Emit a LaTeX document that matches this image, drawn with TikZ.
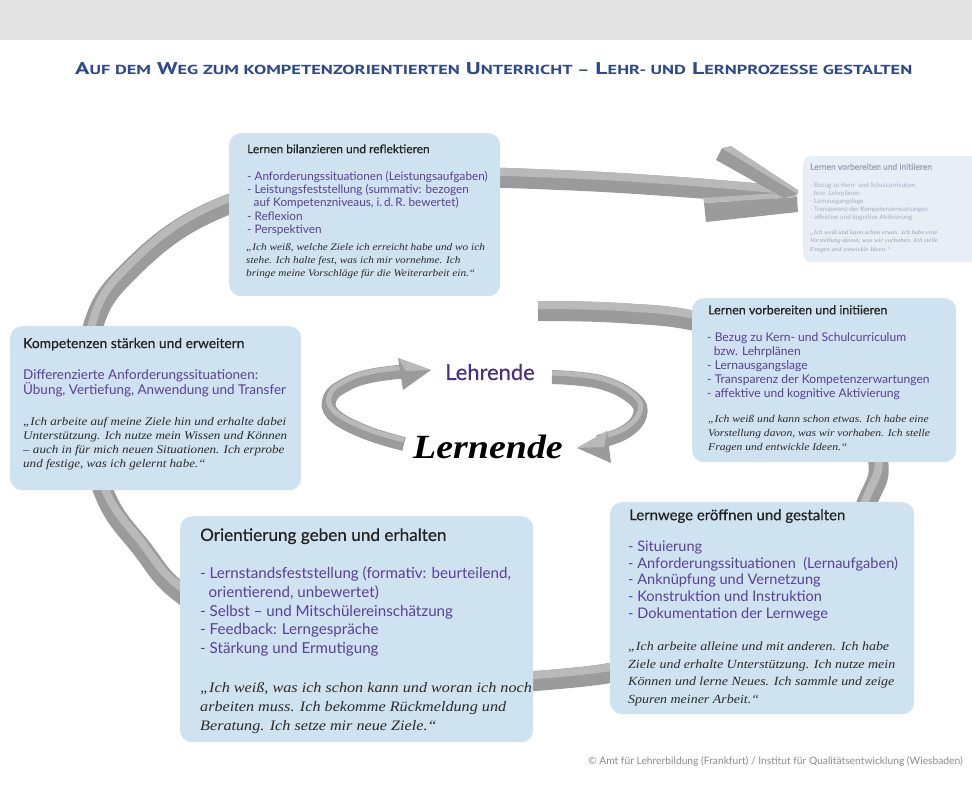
\documentclass[tikz,border=0pt]{standalone}
\usepackage{fontspec}
\setmainfont{Liberation Serif}
\setsansfont{Lato}
\newfontfamily\headfont{PT Sans}
\newfontfamily\kopffont{Lato}[FakeBold=0.5]
\newfontfamily\zitatfont{Liberation Serif}[FakeStretch=1.12]
\usepackage{graphicx}
\usetikzlibrary{positioning}
\definecolor{kopfgrau}{HTML}{E4E4E4}
\definecolor{titelblau}{HTML}{2D4A8A}
\definecolor{boxblau}{HTML}{CEE2EF}
\definecolor{blassblau}{HTML}{E7EEF5}
\definecolor{lila}{HTML}{5B3F98}
\definecolor{lehrlila}{HTML}{4A2D85}
\definecolor{schrift}{HTML}{222222}
\definecolor{zitatgrau}{HTML}{2B2B2B}
\definecolor{blasstext}{HTML}{ABABC6}
\definecolor{bandhell}{HTML}{B9B9B9}
\definecolor{banddunkel}{HTML}{9B9B9B}
\definecolor{fussgrau}{HTML}{8A8A8A}
\newcommand{\kap}[1]{{\fontsize{10}{10}\selectfont\MakeUppercase{#1}}}
\newcommand{\einzug}{\hspace*{0.55em}}
\tikzstyle{box} = [fill=boxblau, rounded corners=12bp, anchor=north west, inner sep=0pt]
\tikzstyle{kopf} = [anchor=north west, inner sep=0pt, text=schrift]
\tikzstyle{punkte} = [anchor=north west, inner sep=0pt, align=left, text=lila]
\tikzstyle{zitat} = [anchor=north west, inner sep=0pt, align=left, text=zitatgrau]
\tikzstyle{blass} = [anchor=north west, inner sep=0pt, align=left, text=blasstext]

\begin{document}
\begin{tikzpicture}[x=1bp, y=-1bp]
\useasboundingbox (0,0) rectangle (972,786);
\fill[kopfgrau] (0,0) rectangle (972,40);
\node (titel) [anchor=base west, inner sep=0pt, text=titelblau] at (75,75)
  {\resizebox{837bp}{12bp}{\headfont\bfseries\fontsize{13}{13}\selectfont A\kap{uf dem} W\kap{eg zum kompetenzorientierten} U\kap{nterricht –} L\kap{ehr- und} L\kap{ernprozesse gestalten}}};

\draw[line width=20bp, banddunkel] plot[smooth, tension=0.7] coordinates {(538,311) (620,313) (700,322) (790,350) (855,400) (878,460) (868,500) (835,560) (760,620) (660,660) (570,678) (450,680) (330,655) (230,620) (177,590) (143,550) (105,495) (90,420) (92,330) (133,267) (215,210) (320,185) (450,178) (560,180) (680,187) (775,195)};
\draw[line width=8bp, bandhell, yshift=6bp] plot[smooth, tension=0.7] coordinates {(538,311) (620,313) (700,322) (790,350) (855,400) (878,460) (868,500) (835,560) (760,620) (660,660) (570,678) (450,680) (330,655) (230,620) (177,590) (143,550) (105,495) (90,420) (92,330) (133,267) (215,210) (320,185) (450,178) (560,180) (680,187) (775,195)};
\fill[banddunkel] (704,203) -- (797,197) -- (798,212) -- (706,222) -- cycle;
\fill[bandhell] (703,198) -- (795,192) -- (797,197) -- (704,203) -- cycle;
\fill[banddunkel] (716,160) -- (722,148) -- (798,194) -- (784,198) -- cycle;
\fill[bandhell] (722,148) -- (731,146) -- (798,190) -- (798,194) -- cycle;

\draw[line width=14bp, banddunkel] plot[smooth, tension=0.7] coordinates {(404,444) (365,432) (334,415) (330,398) (345,385) (370,376) (408,371)};
\draw[line width=5bp, bandhell, yshift=4bp] plot[smooth, tension=0.7] coordinates {(404,444) (365,432) (334,415) (330,398) (345,385) (370,376) (408,371)};
\fill[banddunkel] (398,358) -- (431,370) -- (403,390) -- cycle;
\fill[bandhell] (398,358) -- (431,370) -- (406,371) -- cycle;
\draw[line width=14bp, banddunkel] plot[smooth, tension=0.7] coordinates {(552,377) (600,382) (633,398) (640,415) (625,432) (598,442)};
\draw[line width=5bp, bandhell, yshift=4bp] plot[smooth, tension=0.7] coordinates {(552,377) (600,382) (633,398) (640,415) (625,432) (598,442)};
\fill[banddunkel] (607,431) -- (577,448) -- (611,463) -- cycle;
\fill[bandhell] (607,431) -- (577,448) -- (604,447) -- cycle;

\node (lehrende) [text=lehrlila, font=\kopffont\fontsize{22}{22}\selectfont] at (490,372) {Lehrende};
\node (lernende) [text=black, font=\zitatfont\bfseries\itshape\fontsize{34}{34}\selectfont] at (488,447) {Lernende};

\node (bilanz) [box, minimum width=271bp, minimum height=163bp] at (229,133) {};
\node (bilanzkopf) [kopf, font=\kopffont\fontsize{12}{14}\selectfont, below right=11.2bp and 18bp of bilanz.north west] {Lernen bilanzieren und reflektieren};
\node (bilanzpunkte) [punkte, font=\sffamily\fontsize{11.8}{13.3}\selectfont, below right=38bp and 18bp of bilanz.north west]
  {- Anforderungssituationen (Leistungsaufgaben)\\- Leistungsfeststellung (summativ: bezogen\\\einzug auf Kompetenzniveaus, i.\,d.\,R. bewertet)\\- Reflexion\\- Perspektiven};
\node (bilanzzitat) [zitat, font=\zitatfont\itshape\fontsize{10.1}{13.3}\selectfont, below right=110bp and 17bp of bilanz.north west]
  {„Ich weiß, welche Ziele ich erreicht habe und wo ich\\stehe. Ich halte fest, was ich mir vornehme. Ich\\bringe meine Vorschläge für die Weiterarbeit ein.“};

\node (vorschau) [box, fill=blassblau, rounded corners=8bp, minimum width=182bp, minimum height=106bp] at (803,156) {};
\node (vorschaukopf) [blass, text=blasstext!70!gray, font=\kopffont\fontsize{8.5}{10}\selectfont, below right=7.3bp and 7bp of vorschau.north west] {Lernen vorbereiten und initiieren};
\node (vorschaupunkte) [blass, font=\sffamily\fontsize{6.4}{8.2}\selectfont, below right=26.4bp and 7bp of vorschau.north west]
  {- Bezug zu Kern- und Schulcurriculum\\\einzug bzw. Lehrplänen\\- Lernausgangslage\\- Transparenz der Kompetenzerwartungen\\- affektive und kognitive Aktivierung};
\node (vorschauzitat) [blass, text=blasstext!70!gray, font=\zitatfont\itshape\fontsize{6}{8.3}\selectfont, below right=74.3bp and 7bp of vorschau.north west]
  {„Ich weiß und kann schon etwas. Ich habe eine\\Vorstellung davon, was wir vorhaben. Ich stelle\\Fragen und entwickle Ideen.“};

\node (vorbereiten) [box, minimum width=264bp, minimum height=164bp] at (692,298) {};
\node (vorbereitenkopf) [kopf, font=\kopffont\fontsize{12.5}{14}\selectfont, below right=7bp and 16bp of vorbereiten.north west] {Lernen vorbereiten und initiieren};
\node (vorbereitenpunkte) [punkte, font=\sffamily\fontsize{12.1}{14}\selectfont, below right=34.9bp and 15bp of vorbereiten.north west]
  {- Bezug zu Kern- und Schulcurriculum\\\einzug bzw. Lehrplänen\\- Lernausgangslage\\- Transparenz der Kompetenzerwartungen\\- affektive und kognitive Aktivierung};
\node (vorbereitenzitat) [zitat, font=\zitatfont\itshape\fontsize{10.4}{13.8}\selectfont, below right=117.4bp and 16bp of vorbereiten.north west]
  {„Ich weiß und kann schon etwas. Ich habe eine\\Vorstellung davon, was wir vorhaben. Ich stelle\\Fragen und entwickle Ideen.“};

\node (staerken) [box, minimum width=291bp, minimum height=164bp] at (10,326) {};
\node (staerkenkopf) [kopf, font=\kopffont\fontsize{13.9}{16}\selectfont, below right=11.7bp and 13bp of staerken.north west] {Kompetenzen stärken und erweitern};
\node (staerkenpunkte) [punkte, font=\sffamily\fontsize{13.5}{14.5}\selectfont, below right=43.6bp and 13bp of staerken.north west]
  {Differenzierte Anforderungssituationen:\\Übung, Vertiefung, Anwendung und Transfer};
\node (staerkenzitat) [zitat, font=\zitatfont\itshape\fontsize{11.7}{14}\selectfont, below right=91bp and 13bp of staerken.north west]
  {„Ich arbeite auf meine Ziele hin und erhalte dabei\\Unterstützung. Ich nutze mein Wissen und Können\\– auch in für mich neuen Situationen. Ich erprobe\\und festige, was ich gelernt habe.“};

\node (orient) [box, minimum width=353bp, minimum height=226bp] at (180,516) {};
\node (orientkopf) [kopf, font=\kopffont\fontsize{17.2}{19}\selectfont, below right=12.1bp and 20bp of orient.north west] {Orientierung geben und erhalten};
\node (orientpunkte) [punkte, font=\sffamily\fontsize{15.2}{19}\selectfont, below right=50.2bp and 20bp of orient.north west]
  {- Lernstandsfeststellung (formativ: beurteilend,\\\einzug orientierend, unbewertet)\\- Selbst – und Mitschülereinschätzung\\- Feedback: Lerngespräche\\- Stärkung und Ermutigung};
\node (orientzitat) [zitat, font=\zitatfont\itshape\fontsize{14.5}{19}\selectfont, below right=166.5bp and 20bp of orient.north west]
  {„Ich weiß, was ich schon kann und woran ich noch\\arbeiten muss. Ich bekomme Rückmeldung und\\Beratung. Ich setze mir neue Ziele.“};

\node (lernwege) [box, minimum width=304bp, minimum height=212bp] at (610,502) {};
\node (lernwegekopf) [kopf, font=\kopffont\fontsize{15}{17}\selectfont, below right=7bp and 19bp of lernwege.north west] {Lernwege eröffnen und gestalten};
\node (lernwegepunkte) [punkte, font=\sffamily\fontsize{14.6}{16.7}\selectfont, below right=38.9bp and 18bp of lernwege.north west]
  {- Situierung\\- Anforderungssituationen\ \ (Lernaufgaben)\\- Anknüpfung und Vernetzung\\- Konstruktion und Instruktion\\- Dokumentation der Lernwege};
\node (lernwegezitat) [zitat, font=\zitatfont\itshape\fontsize{12.5}{17.6}\selectfont, below right=139.7bp and 18bp of lernwege.north west]
  {„Ich arbeite alleine und mit anderen. Ich habe\\Ziele und erhalte Unterstützung. Ich nutze mein\\Können und lerne Neues. Ich sammle und zeige\\Spuren meiner Arbeit.“};

\node (fuss) [anchor=base east, inner sep=0pt, text=fussgrau, font=\sffamily\fontsize{10.3}{12}\selectfont] at (963,764) {© Amt für Lehrerbildung (Frankfurt) / Institut für Qualitätsentwicklung (Wiesbaden)};
\end{tikzpicture}
\end{document}
